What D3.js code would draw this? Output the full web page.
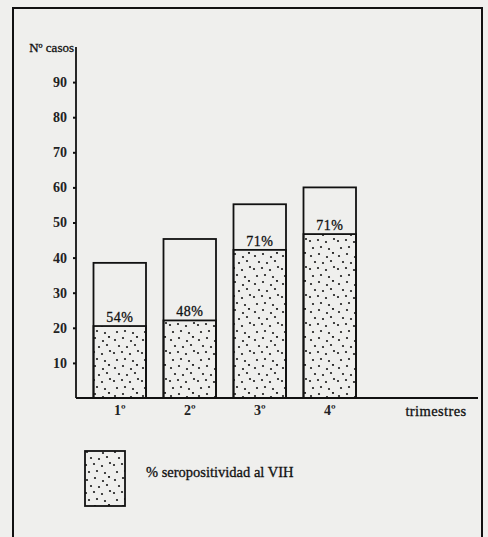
<!DOCTYPE html>
<html>
<head>
<meta charset="utf-8">
<script src="https://cdn.jsdelivr.net/npm/d3@7"></script>
<style>
  html, body { margin: 0; padding: 0; background: #efefed; }
  svg { display: block; }
</style>
</head>
<body>
<div id="app"></div>
<script>
// Data
const trimestres = ['1º', '2º', '3º', '4º'];
const casosTotal = [38.5, 45.3, 55.2, 60];
const casosPositivos = [20.5, 22.1, 42.2, 46.7];
const etiquetasPct = ['54%', '48%', '71%', '71%'];
const yTicks = [10, 20, 30, 40, 50, 60, 70, 80, 90];

const width = 488, height = 537;
const serif = '"Liberation Serif", "DejaVu Serif", serif';

const svg = d3.select('#app').append('svg')
    .attr('width', width)
    .attr('height', height);

// dotted texture
const defs = svg.append('defs');
const pat = defs.append('pattern')
    .attr('id', 'dots')
    .attr('patternUnits', 'userSpaceOnUse')
    .attr('width', 28)
    .attr('height', 28);
const dotPos = [[3, 4], [11, 2], [19, 5], [25, 1], [7, 10], [15, 11], [23, 9],
    [2, 17], [10, 16], [18, 18], [26, 15], [5, 24], [13, 23], [21, 25]];
pat.selectAll('circle').data(dotPos).enter().append('circle')
    .attr('cx', d => d[0]).attr('cy', d => d[1]).attr('r', 1.1)
    .attr('fill', '#1a1a1a');

// outer frame (open at bottom)
svg.append('path')
    .attr('d', 'M13,540 V8 H482 V540')
    .attr('fill', 'none')
    .attr('stroke', '#111')
    .attr('stroke-width', 2);

const x = d3.scaleBand()
    .domain(trimestres)
    .range([76, 373.5])
    .padding(0.25);

const y = d3.scaleLinear()
    .domain([0, 100])
    .range([398, 47]);

// bars: total
const g = svg.append('g');
g.selectAll('.total').data(trimestres).enter().append('rect')
    .attr('class', 'total')
    .attr('x', d => x(d))
    .attr('y', (d, i) => y(casosTotal[i]))
    .attr('width', x.bandwidth())
    .attr('height', (d, i) => y(0) - y(casosTotal[i]))
    .attr('fill', 'none')
    .attr('stroke', '#111')
    .attr('stroke-width', 1.8);

// bars: seropositive part
g.selectAll('.pos').data(trimestres).enter().append('rect')
    .attr('class', 'pos')
    .attr('x', d => x(d))
    .attr('y', (d, i) => y(casosPositivos[i]))
    .attr('width', x.bandwidth())
    .attr('height', (d, i) => y(0) - y(casosPositivos[i]))
    .attr('fill', 'url(#dots)')
    .attr('stroke', '#111')
    .attr('stroke-width', 1.8);

g.selectAll('.pct').data(trimestres).enter().append('text')
    .attr('x', d => x(d) + x.bandwidth() / 2)
    .attr('y', (d, i) => y(casosPositivos[i]) - 4)
    .attr('text-anchor', 'middle')
    .style('font-family', serif)
    .style('font-size', '14px')
    .style('letter-spacing', '0.5px')
    .style('fill', '#111')
    .style('stroke', '#111')
    .style('stroke-width', 0.3)
    .text((d, i) => etiquetasPct[i]);

// y axis
const yAxis = svg.append('g')
    .attr('transform', 'translate(76,0)')
    .call(d3.axisLeft(y).tickValues(yTicks).tickSize(3).tickPadding(6));
yAxis.select('.domain').remove();
yAxis.append('line')
    .attr('y1', y(0)).attr('y2', y(100))
    .attr('stroke', '#111').attr('stroke-width', 1.8);
yAxis.selectAll('.tick line').attr('stroke', '#111').attr('stroke-width', 2);
yAxis.selectAll('.tick text')
    .style('font-family', serif)
    .style('font-size', '14px')
    .style('font-weight', 'bold')
    .style('fill', '#222');

// baseline and x labels
svg.append('line')
    .attr('x1', 76).attr('x2', 478)
    .attr('y1', y(0)).attr('y2', y(0))
    .attr('stroke', '#111').attr('stroke-width', 2);

const xAxis = svg.append('g')
    .attr('transform', `translate(0,${y(0)})`)
    .call(d3.axisBottom(x).tickSize(0).tickPadding(7));
xAxis.select('.domain').remove();
xAxis.selectAll('.tick text')
    .style('font-family', serif)
    .style('font-size', '14px')
    .style('font-weight', 'bold')
    .style('fill', '#222');

svg.append('text')
    .attr('x', 436).attr('y', 416)
    .attr('text-anchor', 'middle')
    .style('font-family', serif)
    .style('font-size', '14.5px')
    .style('letter-spacing', '0.4px')
    .style('fill', '#111')
    .style('stroke', '#111')
    .style('stroke-width', 0.3)
    .text('trimestres');

svg.append('text')
    .attr('x', 74).attr('y', 52)
    .attr('text-anchor', 'end')
    .style('font-family', serif)
    .style('font-size', '13px')
    .style('fill', '#111')
    .style('stroke', '#111')
    .style('stroke-width', 0.3)
    .text('Nº casos');

// legend
svg.append('rect')
    .attr('x', 85).attr('y', 451)
    .attr('width', 40).attr('height', 55)
    .attr('fill', 'url(#dots)')
    .attr('stroke', '#111')
    .attr('stroke-width', 1.8);

svg.append('text')
    .attr('x', 146).attr('y', 477)
    .style('font-family', serif)
    .style('font-size', '14.5px')
    .style('fill', '#111')
    .style('stroke', '#111')
    .style('stroke-width', 0.3)
    .text('% seropositividad al VIH');
</script>
</body>
</html>
